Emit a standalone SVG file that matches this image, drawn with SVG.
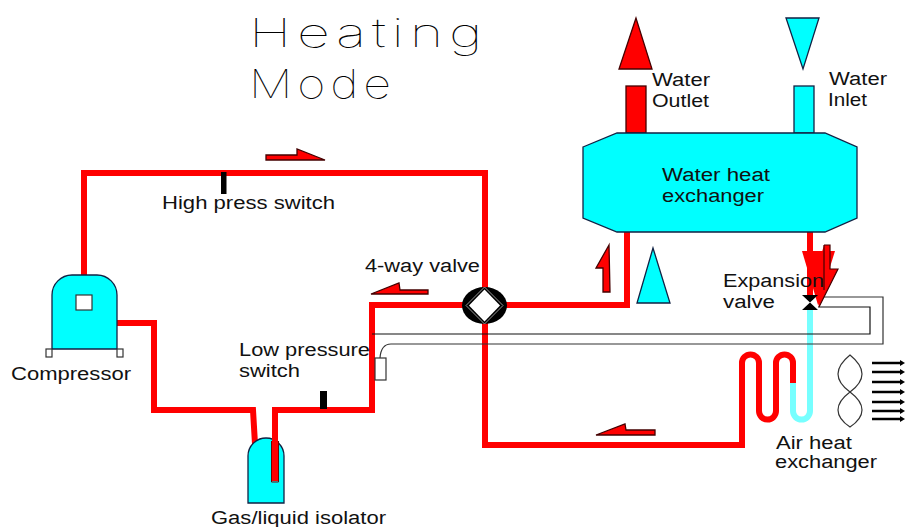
<svg xmlns="http://www.w3.org/2000/svg" width="905" height="527" viewBox="0 0 905 527">
<style>
text{font-family:"Liberation Sans",Arial,sans-serif;font-size:18px;fill:#111}
.title{font-family:"Inter","Liberation Sans",sans-serif;font-weight:100;font-size:40px;fill:#000}
.pipe{fill:none;stroke:#f00;stroke-width:6;stroke-linejoin:miter}
.cold{fill:none;stroke:#7ff;stroke-width:6}
.thin{fill:none;stroke:#333;stroke-width:1.2}
.cy{fill:#0ff;stroke:#124;stroke-width:1.3}
.rd{fill:#f00;stroke:#400;stroke-width:1.3}
.flow{fill:none;stroke:#000;stroke-width:2.500}
.w{fill:#fff;stroke:#333;stroke-width:1.2}
</style>
<defs><marker id="h" markerUnits="userSpaceOnUse" markerWidth="5" markerHeight="6" refX="1" refY="3" orient="auto"><path d="M0 0L5 3L0 6Z" fill="#000"/></marker></defs>
<g id="connectors">
<path class="pipe" d="M84 275V173H485V305"/>
<path class="pipe" d="M117 323H154V410H253L255 444"/>
<path class="pipe" d="M275 480V410H372V305H485"/>
<path class="pipe" d="M485 305H627V232"/>
<path class="pipe" d="M485 305V445H742V363A8.500 8.500 0 0 1 759 363V411A8.500 8.500 0 0 0 776 411V363A8.500 8.500 0 0 1 793 363V383"/>
<path class="pipe" d="M810 232V300"/>
<path class="cold" d="M793 383V411A8.500 8.500 0 0 0 810 411V310"/>
<path class="thin" d="M818 297H883V344H391Q381 344 380 358"/>
<path class="thin" d="M818 307H870V334H372" style="stroke:#111"/>
<g id="flow-arrows">
<path class="flow" marker-end="url(#h)" d="M872 363H901"/>
<path class="flow" marker-end="url(#h)" d="M872 372H901"/>
<path class="flow" marker-end="url(#h)" d="M872 382H901"/>
<path class="flow" marker-end="url(#h)" d="M872 392H901"/>
<path class="flow" marker-end="url(#h)" d="M872 402H901"/>
<path class="flow" marker-end="url(#h)" d="M872 411H901"/>
<path class="flow" marker-end="url(#h)" d="M872 419H901"/>
<path class="rd" d="M266 155H297V149L325 160H266Z"/>
<path class="rd" d="M371 294L399 283L400 290H428V294Z"/>
<path class="rd" d="M609 245L596 268H603V292H610Z"/>
<path class="rd" d="M596 435L625 424L626 430H655V435Z"/>
<path class="rd" style="stroke:none" d="M802 251H835L818 305Z"/>
<path style="fill:#f00;stroke:none" d="M824 245H830V269H838L819 307L813 283Z"/>
<path d="M824 245V290M824 245H830V269H838L819 307" fill="none" stroke="#400" stroke-width="1.2"/>
</g>
</g>
<g id="title"><text class="title" x="249" y="47" textLength="239" lengthAdjust="spacingAndGlyphs" letter-spacing="4">Heating</text><text class="title" x="249" y="98" textLength="147" lengthAdjust="spacingAndGlyphs" letter-spacing="4">Mode</text></g>
<g id="outlet-arrow"><path class="rd" d="M636 18L619 69H652Z"/></g>
<g id="inlet-arrow"><path class="cy" d="M786 18H819L803 69Z"/></g>
<g id="up-arrow"><path class="cy" d="M653 248L637 303H670Z"/></g>
<g id="water-outlet"><rect class="rd" x="626" y="86" width="20" height="47"/><text x="652" y="86" textLength="58" lengthAdjust="spacingAndGlyphs">Water</text><text x="652" y="107" textLength="57" lengthAdjust="spacingAndGlyphs">Outlet</text></g>
<g id="water-inlet"><rect class="cy" x="794" y="86" width="20" height="47"/><text x="829" y="85" textLength="58" lengthAdjust="spacingAndGlyphs">Water</text><text x="828" y="106" textLength="39" lengthAdjust="spacingAndGlyphs">Inlet</text></g>
<g id="water-heat-exchanger"><path class="cy" d="M583 147L617 133H825L857 147V218L825 232H617L583 218Z"/><text x="662" y="181" textLength="108" lengthAdjust="spacingAndGlyphs">Water heat</text><text x="662" y="202" textLength="102" lengthAdjust="spacingAndGlyphs">exchanger</text></g>
<g id="high-press-switch"><rect x="221" y="172" width="5.500" height="22" fill="#000"/><text x="162" y="209" textLength="173" lengthAdjust="spacingAndGlyphs">High press switch</text></g>
<g id="compressor"><path class="cy" d="M52 349V295A20 20 0 0 1 72 275H97A20 20 0 0 1 117 295V349Z"/><rect class="w" x="76" y="295" width="16" height="15"/><rect class="w" x="46" y="349" width="6" height="8"/><rect class="w" x="117" y="349" width="6" height="8"/><text x="11" y="380" textLength="120" lengthAdjust="spacingAndGlyphs">Compressor</text></g>
<g id="four-way-valve"><ellipse cx="484.500" cy="305.500" rx="22.500" ry="18.500" fill="#000"/><path d="M484.500 287L503 305.500L484.500 324L466 305.500Z" fill="none" stroke="#999" stroke-width="1"/><path d="M484.500 289.500L500 305.500L484.500 321.500L469 305.500Z" fill="#fff"/><text x="365" y="272" textLength="115" lengthAdjust="spacingAndGlyphs">4-way valve</text></g>
<g id="low-pressure-switch"><rect class="w" x="375" y="358" width="11" height="22"/><rect x="320" y="391" width="7" height="18" fill="#000"/><text x="239" y="356" textLength="131" lengthAdjust="spacingAndGlyphs">Low pressure</text><text x="239" y="377" textLength="61" lengthAdjust="spacingAndGlyphs">switch</text></g>
<g id="gas-liquid-isolator"><path class="cy" d="M248 503V456A18 18 0 0 1 284 456V503Z"/><path d="M275 438V481" stroke="#f00" stroke-width="6"/><path d="M271.500 441V482H278.500V441" fill="none" stroke="#700" stroke-width="1"/><text x="211" y="524" textLength="175" lengthAdjust="spacingAndGlyphs">Gas/liquid isolator</text></g>
<g id="expansion-valve"><path d="M802 295H818L802 310H818Z" fill="#000"/><text x="723" y="287" textLength="101" lengthAdjust="spacingAndGlyphs">Expansion</text><text x="723" y="308" textLength="52" lengthAdjust="spacingAndGlyphs">valve</text></g>
<g id="air-heat-exchanger"><text x="776" y="449" textLength="76" lengthAdjust="spacingAndGlyphs">Air heat</text><text x="775" y="468" textLength="102" lengthAdjust="spacingAndGlyphs">exchanger</text></g>
<g id="fan"><path class="thin" d="M850 355C834 368 834 380 850 392C866 380 866 368 850 355ZM850 392C834 404 834 416 850 427C866 416 866 404 850 392Z"/></g>
</svg>
